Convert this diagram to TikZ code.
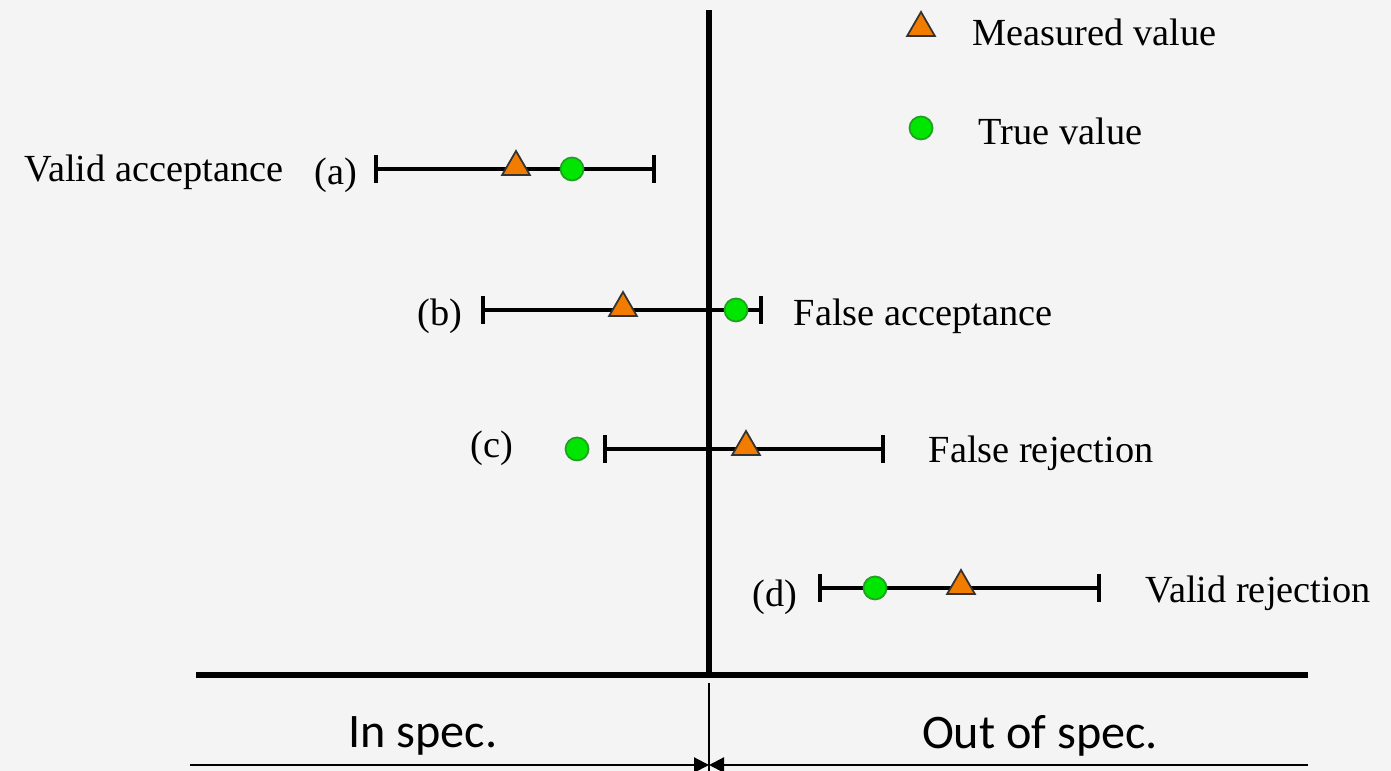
\documentclass[tikz,border=0pt]{standalone}
\usepackage{fontspec}
\setmainfont{Liberation Serif}
\newfontfamily\calib{Carlito}
\usetikzlibrary{shapes.geometric,arrows.meta}
\definecolor{bgc}{HTML}{F4F4F4}
\definecolor{meas}{HTML}{F27C00}
\definecolor{truec}{HTML}{00E600}
\definecolor{truee}{HTML}{22A022}
\tikzset{
  meastri/.style={regular polygon, regular polygon sides=3, minimum size=0.32cm, inner sep=0pt, fill=meas, draw=black!80, line width=0.5pt},
  truedot/.style={circle, minimum size=0.23cm, inner sep=0pt, fill=truec, draw=truee, line width=0.5pt},
  errbar/.style={line width=0.9pt, black},
  tick/.style={line width=0.9pt, black},
  axisline/.style={line width=1.5pt, black},
  lbl/.style={font=\fontsize{10.9}{13}\selectfont, inner sep=0pt},
  speclbl/.style={font=\calib\fontsize{13.7}{16}\selectfont, inner sep=0pt},
  specarrow/.style={line width=0.6pt, -{Triangle[length=0.15cm,width=0.15cm]}}
}
\begin{document}
\begin{tikzpicture}[x=0.01cm,y=-0.01cm]
\fill[bgc] (0,0) rectangle (1391,771);
\useasboundingbox (0,0) rectangle (1391,771);

% axes
\coordinate (vtop) at (709,10);
\coordinate (origin) at (709,675);
\coordinate (hl) at (196,675);
\coordinate (hr) at (1308,675);
\draw[axisline] (vtop) -- (origin);
\draw[axisline] (hl) -- (hr);

% legend
\node[meastri] (legtri) at (921,28) {};
\node[lbl, anchor=west] (legmeas) at (972,32) {Measured value};
\node[truedot] (legdot) at (921,128) {};
\node[lbl, anchor=west] (legtrue) at (978,131) {True value};

% row a
\coordinate (a1) at (376,169);
\coordinate (a2) at (654,169);
\draw[errbar] (a1) -- (a2);
\draw[tick] ([yshift=-0.14cm]a1) -- ([yshift=0.14cm]a1);
\draw[tick] ([yshift=-0.14cm]a2) -- ([yshift=0.14cm]a2);
\node[meastri] (atri) at (516,167) {};
\node[truedot] (adot) at (572,169) {};
\node[lbl, anchor=east] (alab) at (358,175) {(a)};
\node[lbl, anchor=east] (aname) at (284,172) {Valid acceptance};

% row b
\coordinate (b1) at (483,310);
\coordinate (b2) at (761,310);
\draw[errbar] (b1) -- (b2);
\draw[tick] ([yshift=-0.14cm]b1) -- ([yshift=0.14cm]b1);
\draw[tick] ([yshift=-0.14cm]b2) -- ([yshift=0.14cm]b2);
\node[meastri] (btri) at (623,308) {};
\node[truedot] (bdot) at (736,310) {};
\node[lbl, anchor=east] (blab) at (463,316) {(b)};
\node[lbl, anchor=west] (bname) at (793,316) {False acceptance};

% row c
\coordinate (c1) at (605,449);
\coordinate (c2) at (883,449);
\draw[errbar] (c1) -- (c2);
\draw[tick] ([yshift=-0.14cm]c1) -- ([yshift=0.14cm]c1);
\draw[tick] ([yshift=-0.14cm]c2) -- ([yshift=0.14cm]c2);
\node[meastri] (ctri) at (746,447) {};
\node[truedot] (cdot) at (577,449) {};
\node[lbl, anchor=east] (clab) at (514,448) {(c)};
\node[lbl, anchor=west] (cname) at (928,453) {False rejection};

% row d
\coordinate (d1) at (820,588);
\coordinate (d2) at (1099,588);
\draw[errbar] (d1) -- (d2);
\draw[tick] ([yshift=-0.14cm]d1) -- ([yshift=0.14cm]d1);
\draw[tick] ([yshift=-0.14cm]d2) -- ([yshift=0.14cm]d2);
\node[meastri] (dtri) at (961,586) {};
\node[truedot] (ddot) at (875,588) {};
\node[lbl, anchor=east] (dlab) at (798,597) {(d)};
\node[lbl, anchor=west] (dname) at (1145,593) {Valid rejection};

% spec region
\coordinate (sdivtop) at (709,683);
\coordinate (sdivbot) at (709,771);
\draw[line width=0.3pt] (sdivtop) -- (sdivbot);
\coordinate (sl) at (190,765);
\coordinate (sr) at (1308,765);
\coordinate (sm) at (709,765);
\draw[specarrow] (sl) -- (sm);
\draw[specarrow] (sr) -- (sm);
\node[speclbl] (inspec) at (423,736) {In spec.};
\node[speclbl] (outspec) at (1040,736) {Out of spec.};
\end{tikzpicture}
\end{document}
